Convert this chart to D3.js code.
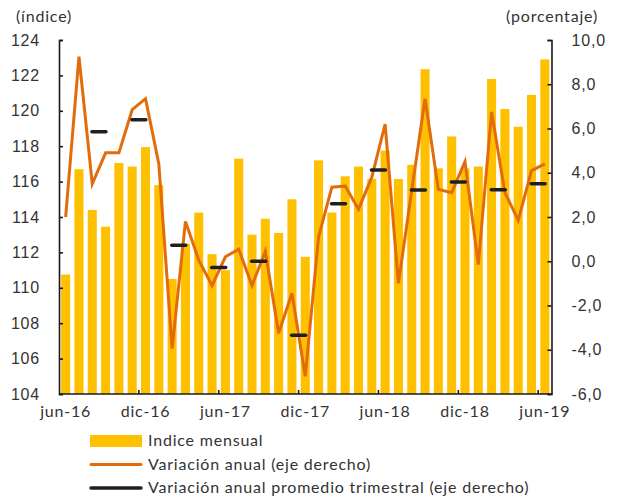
<!DOCTYPE html>
<head>
	<meta charset="utf-8">
	<title>Indice mensual</title>
<style>
	body {
		margin:0;
		background-color: #ffffff;
		font-family: Lato, "Open Sans", sans-serif;
	}
	svg text {
		fill: #333333;
		font-size: 16px;
		letter-spacing: 0.8px;
	}
	.axis path, .axis line {
		stroke: #1a1a1a;
		stroke-width: 1.6px;
	}
</style>
</head>
<script src="https://d3js.org/d3.v7.min.js"></script>
<body>
	<script>
	var width = 617;
	var height = 499;

	// meses
	var months = ["jun-16","jul-16","ago-16","sep-16","oct-16","nov-16","dic-16",
		"ene-17","feb-17","mar-17","abr-17","may-17","jun-17","jul-17","ago-17","sep-17","oct-17","nov-17","dic-17",
		"ene-18","feb-18","mar-18","abr-18","may-18","jun-18","jul-18","ago-18","sep-18","oct-18","nov-18","dic-18",
		"ene-19","feb-19","mar-19","abr-19","may-19","jun-19"];

	// indice mensual (eje izquierdo)
	var indice = [110.75, 116.7, 114.4, 113.45, 117.05, 116.85, 117.95,
		115.8, 110.5, 112.5, 114.25, 111.9, 111.0, 117.3, 113.0, 113.9, 113.1, 115.0, 111.75,
		117.2, 114.25, 116.3, 116.85, 116.15, 117.75, 116.15, 116.95, 122.35, 116.75, 118.55, 116.75,
		116.85, 121.8, 120.1, 119.1, 120.9, 122.9];

	// variacion anual (eje derecho)
	var variacion = [2.0, 9.25, 3.5, 4.9, 4.9, 6.85, 7.35,
		4.4, -3.95, 1.8, 0.05, -1.1, 0.2, 0.55, -1.1, 0.45, -3.25, -1.45, -5.2,
		1.1, 3.35, 3.4, 2.35, 3.8, 6.2, -1.0, 3.2, 7.35, 3.25, 3.1, 4.5,
		-0.15, 6.75, 3.1, 1.85, 4.1, 4.4];

	// promedio trimestral, marcado en el mes central del trimestre
	var trimMes = ["ago-16","nov-16","feb-17","may-17","ago-17","nov-17",
		"feb-18","may-18","ago-18","nov-18","feb-19","may-19"];
	var trimValor = [5.85, 6.4, 0.72, -0.28, 0.0, -3.35, 2.6, 4.12, 3.22, 3.58, 3.23, 3.5];

	var leftTicks = [104,106,108,110,112,114,116,118,120,122,124];
	var rightTicks = [-6,-4,-2,0,2,4,6,8,10];
	var xLabels = ["jun-16","dic-16","jun-17","dic-17","jun-18","dic-18","jun-19"];

	var legendItems = ["Indice mensual", "Variación anual (eje derecho)", "Variación anual promedio trimestral (eje derecho)"];

	var plotLeft = 59, plotRight = 551.5, plotTop = 40, plotBottom = 394;

	var svg = d3.select("body").append("svg")
		.attr("width", width)
		.attr("height", height);

	var x = d3.scaleBand()
		.domain(months)
		.range([plotLeft, plotRight])
		.paddingInner(0.32)
		.paddingOuter(0.16);
	var step = x.step();

	var yL = d3.scaleLinear().domain([104, 124]).range([plotBottom, plotTop]);
	var yR = d3.scaleLinear().domain([-6, 10]).range([plotBottom, plotTop]);

	var loc = d3.formatLocale({decimal: ",", thousands: ".", grouping: [3], currency: ["", ""], minus: "-"});
	var fmt = loc.format(".1f");

	// barras
	svg.append("g").selectAll("rect")
		.data(indice)
		.enter().append("rect")
		.attr("x", function(d, i) {return x(months[i])})
		.attr("width", x.bandwidth())
		.attr("y", function(d) {return yL(d)})
		.attr("height", function(d) {return yL(104) - yL(d)})
		.style("fill", "#ffc000");

	// ejes
	svg.append("g")
		.attr("class", "axis")
		.attr("transform", "translate(" + plotLeft + ",0)")
		.call(d3.axisLeft(yL).tickValues(leftTicks).tickSize(-4).tickPadding(19));

	svg.append("g")
		.attr("class", "axis")
		.attr("transform", "translate(" + plotRight + ",0)")
		.call(d3.axisRight(yR).tickValues(rightTicks).tickFormat(fmt).tickSize(-4).tickPadding(20));

	var xAxis = svg.append("g")
		.attr("class", "axis")
		.attr("transform", "translate(0," + plotBottom + ")")
		.call(d3.axisBottom(x).tickValues(xLabels.slice(1)).tickSize(-4).tickFormat(""));
	// ticks entre categorias
	xAxis.selectAll(".tick").attr("transform", function(d) {return "translate(" + (x(d) - (step - x.bandwidth()) / 2) + ",0)"});
	xAxis.select(".domain").attr("d", "M" + plotLeft + ",0H" + plotRight);

	svg.selectAll(".axis text").style("font-size", "16px").style("fill", "#333").attr("font-family", null);

	svg.append("g").selectAll("text")
		.data(xLabels)
		.enter().append("text")
		.attr("x", function(d) {return x(d) + x.bandwidth() / 2})
		.attr("y", plotBottom + 23)
		.attr("text-anchor", "middle")
		.text(function(d) {return d});

	// linea variacion anual
	var line = d3.line()
		.x(function(d, i) {return x(months[i]) + x.bandwidth() / 2})
		.y(function(d) {return yR(d)});

	svg.append("path")
		.datum(variacion)
		.attr("d", line)
		.style("fill", "none")
		.style("stroke", "#e36c0a")
		.style("stroke-width", 3)
		.style("stroke-linejoin", "miter");

	// promedio trimestral
	svg.append("g").selectAll("line")
		.data(trimValor)
		.enter().append("line")
		.attr("x1", function(d, i) {return x(trimMes[i]) + x.bandwidth() / 2 + step / 2 - 7})
		.attr("x2", function(d, i) {return x(trimMes[i]) + x.bandwidth() / 2 + step / 2 + 7})
		.attr("y1", function(d) {return yR(d)})
		.attr("y2", function(d) {return yR(d)})
		.style("stroke", "#1f1f1f")
		.style("stroke-width", 3.5)
		.style("stroke-linecap", "round");

	// titulos de ejes
	svg.append("text").attr("x", 16).attr("y", 22).text("(índice)");
	svg.append("text").attr("x", 598).attr("y", 22).attr("text-anchor", "end").text("(porcentaje)");

	// leyenda
	var lg = svg.append("g").attr("transform", "translate(90,0)");
	var rows = lg.selectAll("g")
		.data(legendItems)
		.enter().append("g")
		.attr("transform", function(d, i) {return "translate(0," + (441 + i * 23.5) + ")"});

	rows.filter(function(d, i) {return i == 0}).append("rect")
		.attr("x", 0).attr("y", -6).attr("width", 52).attr("height", 12)
		.style("fill", "#ffc000");
	rows.filter(function(d, i) {return i > 0}).append("line")
		.attr("x1", 1).attr("x2", 51)
		.style("stroke", function(d, i) {return i == 0 ? "#e36c0a" : "#1f1f1f"})
		.style("stroke-width", function(d, i) {return i == 0 ? 3 : 3.5})
		.style("stroke-linecap", "round");
	rows.append("text")
		.attr("x", 58)
		.attr("y", 5)
		.text(function(d) {return d});
	</script>
</body>
